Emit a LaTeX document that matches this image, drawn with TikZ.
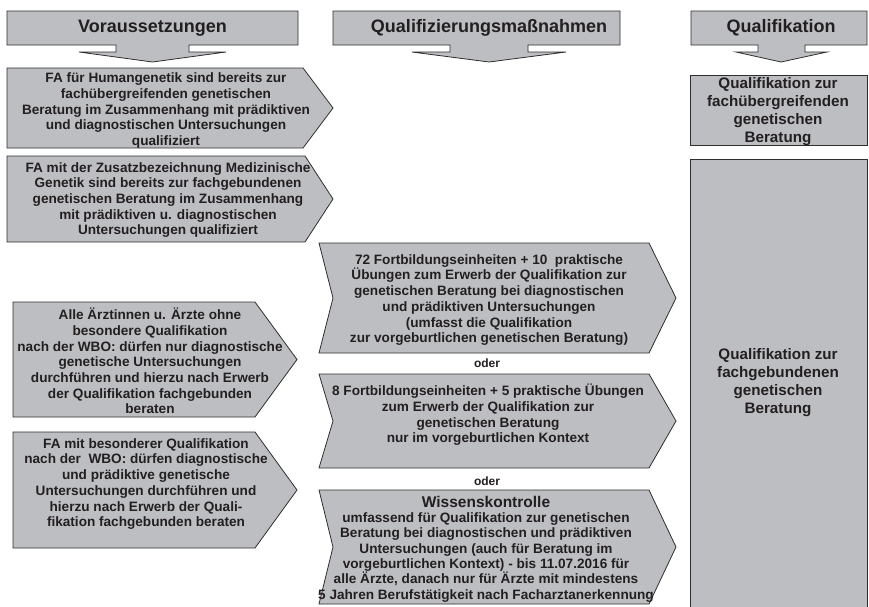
\documentclass[tikz,border=0pt]{standalone}
\usepackage{fontspec}
\setmainfont{Liberation Sans}
\usepackage{tikz}
\usetikzlibrary{positioning, calc}
\definecolor{boxgray}{HTML}{BDBEC2}
\definecolor{edgegray}{HTML}{2E2E2E}
\definecolor{inkgray}{HTML}{231F20}

\begin{document}
\begin{tikzpicture}[
    x=1pt, y=-1pt,
    shapebox/.style={draw=edgegray, line width=0.8pt, fill=boxgray, line join=miter},
    header/.style={font=\bfseries\fontsize{18}{20}\selectfont, text=inkgray, inner sep=0pt},
    boxtext/.style={font=\bfseries\fontsize{13.6}{15.7}\selectfont, text=inkgray, align=center, inner sep=0pt},
    qualtext/.style={font=\bfseries\fontsize{15.2}{18}\selectfont, text=inkgray, align=center, inner sep=0pt},
    ortext/.style={font=\bfseries\fontsize{12}{14}\selectfont, text=inkgray, inner sep=0pt},
]
\useasboundingbox (0,0) rectangle (869,606);

% column heads with down arrows
\draw[shapebox] (7,11) -- (298,11) -- (298,45) -- (189,45) -- (189,52) -- (226,52) -- (152.5,62)
    -- (79,52) -- (116,52) -- (116,45) -- (7,45) -- cycle;
\draw[shapebox] (333,11) -- (620,11) -- (620,45) -- (528,45) -- (528,52) -- (566,52) -- (489,62)
    -- (412,52) -- (450,52) -- (450,45) -- (333,45) -- cycle;
\draw[shapebox] (691,11) -- (867,11) -- (867,45) -- (805,45) -- (805,52) -- (827,52) -- (781,62)
    -- (736,52) -- (758,52) -- (758,45) -- (691,45) -- cycle;

\node[header] (vorhead) at (152.5,28) {Voraussetzungen};
\node[header] (masshead) at (489,28) {Qualifizierungsmaßnahmen};
\node[header] (qualhead) at (781,28) {Qualifikation};

% left column
\draw[shapebox] (7,68) -- (303,68) -- (333,108) -- (303,148) -- (7,148) -- cycle;
\draw[shapebox] (7,156) -- (305,156) -- (333,199) -- (305,242) -- (7,242) -- cycle;
\draw[shapebox] (13,302) -- (255,302) -- (297,359.5) -- (255,417) -- (13,417) -- cycle;
\draw[shapebox] (13,432) -- (255,432) -- (297,490) -- (255,548) -- (13,548) -- cycle;

\node[boxtext] (humgen) at (166,110.5) {FA für Humangenetik sind bereits zur\\
    fachübergreifenden genetischen\\Beratung im Zusammenhang mit prädiktiven\\
    und diagnostischen Untersuchungen\\qualifiziert};
\node[boxtext] (medgen) at (168,200) {FA mit der Zusatzbezeichnung Medizinische\\
    Genetik sind bereits zur fachgebundenen\\genetischen Beratung im Zusammenhang\\
    mit prädiktiven u. diagnostischen\\Untersuchungen qualifiziert};
\node[boxtext] (alle) at (150,361) {Alle Ärztinnen u. Ärzte ohne\\besondere Qualifikation\\
    nach der WBO: dürfen nur diagnostische\\genetische Untersuchungen\\
    durchführen und hierzu nach Erwerb\\der Qualifikation fachgebunden\\beraten};
\node[boxtext] (besqual) at (146,484) {FA mit besonderer Qualifikation\\
    nach der\ \ WBO: dürfen diagnostische\\und prädiktive genetische\\
    Untersuchungen durchführen und\\hierzu nach Erwerb der Quali-\\
    fikation fachgebunden beraten};

% middle column
\draw[shapebox] (319,243) -- (649,243) -- (676,298) -- (649,353) -- (319,353) -- (333,298) -- cycle;
\draw[shapebox] (319,374) -- (649,374) -- (676,421) -- (649,468) -- (319,468) -- (333,421) -- cycle;
\draw[shapebox] (319,490) -- (649,490) -- (676,547) -- (649,604) -- (319,604) -- (333,547) -- cycle;

\node[boxtext] (fbe72) at (489,300) {72 Fortbildungseinheiten + 10\ \ praktische\\
    Übungen zum Erwerb der Qualifikation zur\\genetischen Beratung bei diagnostischen\\
    und prädiktiven Untersuchungen\\(umfasst die Qualifikation\\
    zur vorgeburtlichen genetischen Beratung)};
\node[ortext] (oder1) at (487,363) {oder};
\node[boxtext] (fbe8) at (488,415) {8 Fortbildungseinheiten + 5 praktische Übungen\\
    zum Erwerb der Qualifikation zur\\genetischen Beratung\\nur im vorgeburtlichen Kontext};
\node[ortext] (oder2) at (487,481) {oder};
\node[boxtext, font=\bfseries\fontsize{13.6}{15.3}\selectfont] (wissen) at (486,549)
    {{\fontsize{15.5}{17}\selectfont Wissenskontrolle}\\
    umfassend für Qualifikation zur genetischen\\Beratung bei diagnostischen und prädiktiven\\
    Untersuchungen (auch für Beratung im\\vorgeburtlichen Kontext) - bis 11.07.2016 für\\
    alle Ärzte, danach nur für Ärzte mit mindestens\\5 Jahren Berufstätigkeit nach Facharztanerkennung};

% right column
\draw[shapebox] (690,75) rectangle (867,145);
\draw[shapebox] (690,159) rectangle (867,612);

\node[qualtext] (fachueber) at (778,112) {Qualifikation zur\\fachübergreifenden\\genetischen\\Beratung};
\node[qualtext] (fachgeb) at (778,383) {Qualifikation zur\\fachgebundenen\\genetischen\\Beratung};

\end{tikzpicture}
\end{document}
